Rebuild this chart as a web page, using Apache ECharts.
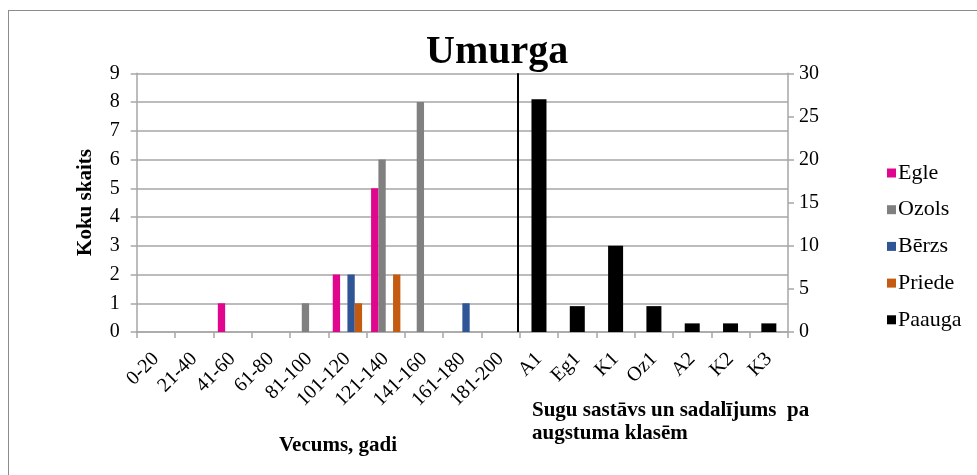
<!DOCTYPE html>
<html>
<head>
<meta charset="utf-8">
<script src="https://cdn.jsdelivr.net/npm/echarts@6/dist/echarts.min.js"></script>
<style>
html,body{margin:0;padding:0;background:#fff;}
#chart{width:977px;height:475px;position:absolute;left:0;top:0;}
#frame{position:absolute;left:8px;top:10px;width:1000px;height:500px;border-left:1.5px solid #8c8c8c;border-top:1.5px solid #8c8c8c;pointer-events:none;}
</style>
</head>
<body>
<div id="chart"></div>
<div id="frame"></div>
<script>
// ---- data ----
const categories = ['0-20','21-40','41-60','61-80','81-100','101-120','121-140','141-160','161-180','181-200','A1','Eg1','K1','Oz1','A2','K2','K3'];
const egle   = ['-','-',1,'-','-',2,5,'-','-','-','-','-','-','-','-','-','-'];
const ozols  = ['-','-','-','-',1,'-',6,8,'-','-','-','-','-','-','-','-','-'];
const berzs  = ['-','-','-','-','-',2,'-','-',1,'-','-','-','-','-','-','-','-'];
const priede = ['-','-','-','-','-',1,2,'-','-','-','-','-','-','-','-','-','-'];
const paauga = ['-','-','-','-','-','-','-','-','-','-',27,3,10,3,1,1,1];
const seriesNames = ['Egle','Ozols','Bērzs','Priede','Paauga'];
const colors = ['#E0068E','#808080','#2F5597','#C55A11','#000000'];
const leftTicks = {min:0,max:9,interval:1};
const rightTicks = {min:0,max:30,interval:5};
const dividerIndex = 10; // first height-class category (divider drawn on its left edge)

const serif = 'Liberation Serif';
const chart = echarts.init(document.getElementById('chart'));
const gray = '#a6a6a6';

const primaryBar = (name, data, color) => ({
  name, type:'bar', data, xAxisIndex:0, yAxisIndex:0,
  barGap:'0%', barCategoryGap:'23.5%', itemStyle:{color}
});

const series = [
  primaryBar(seriesNames[0], egle, colors[0]),
  primaryBar(seriesNames[1], ozols, colors[1]),
  primaryBar(seriesNames[2], berzs, colors[2]),
  primaryBar(seriesNames[3], priede, colors[3]),
  {name:seriesNames[4], type:'bar', data:paauga, xAxisIndex:1, yAxisIndex:1,
   barWidth:15, itemStyle:{color:colors[4]}},
  // helper series on a hidden band-index axis, carrying the divider line
  {name:'divider', type:'line', data:[], xAxisIndex:2, yAxisIndex:0, silent:true,
   markLine:{
     silent:true, symbol:['none','none'], animation:false,
     label:{show:false},
     lineStyle:{color:'#000', width:2, type:'solid'},
     data:[{xAxis: dividerIndex - 0.05}]
   }}
];

chart.setOption({
  animation:false,
  color: colors,
  title:{
    text:'Umurga', left:421, top:28,
    textStyle:{fontFamily:serif, fontSize:40, fontWeight:'bold', color:'#000'}
  },
  legend:{
    orient:'vertical', left:882, top:157,
    itemWidth:9, itemHeight:9, itemGap:14.7, icon:'rect',
    data: seriesNames,
    textStyle:{fontFamily:serif, fontSize:22, color:'#000', lineHeight:22, padding:[0,0,0,-3]}
  },
  grid:{left:136.7, right:189, top:73.3, bottom:143, containLabel:false},
  xAxis:[{
    type:'category', data:categories, boundaryGap:true,
    axisLine:{lineStyle:{color:gray, width:1.5}},
    axisTick:{show:true, length:6, lineStyle:{color:gray, width:1.5}},
    axisLabel:{rotate:45, margin:24, interval:0, fontFamily:serif, fontSize:20, color:'#000'},
    splitLine:{show:false}
  },{
    type:'category', data:categories, show:false, position:'bottom'
  },{
    type:'value', min:0, max:categories.length, show:false, position:'bottom'
  }],
  yAxis:[{
    type:'value', min:leftTicks.min, max:leftTicks.max, interval:leftTicks.interval,
    axisLine:{show:true, lineStyle:{color:gray, width:1.5}},
    axisTick:{show:true, length:6, lineStyle:{color:gray, width:1.5}},
    axisLabel:{margin:17, fontFamily:serif, fontSize:20, color:'#000'},
    splitLine:{show:true, lineStyle:{color:gray, width:1.5}}
  },{
    type:'value', min:rightTicks.min, max:rightTicks.max, interval:rightTicks.interval,
    position:'right',
    axisLine:{show:true, lineStyle:{color:gray, width:1.5}},
    axisTick:{show:true, length:6, lineStyle:{color:gray, width:1.5}},
    axisLabel:{margin:11, fontFamily:serif, fontSize:20, color:'#000'},
    splitLine:{show:false}
  }],
  series,
  graphic:[
    {type:'text', x:86, y:202.5, rotation:Math.PI/2,
     style:{text:'Koku skaits', align:'center', verticalAlign:'middle', font:'bold 21px "Liberation Serif"', fill:'#000'}},
    {type:'text', x:338, y:446,
     style:{text:'Vecums, gadi', align:'center', verticalAlign:'middle', font:'bold 21px "Liberation Serif"', fill:'#000'}},
    {type:'text', x:532, y:399,
     style:{text:'Sugu sastāvs un sadalījums  pa\naugstuma klasēm', align:'left', verticalAlign:'top', font:'bold 21px "Liberation Serif"', lineHeight:23, fill:'#000'}}
  ]
});
</script>
</body>
</html>
